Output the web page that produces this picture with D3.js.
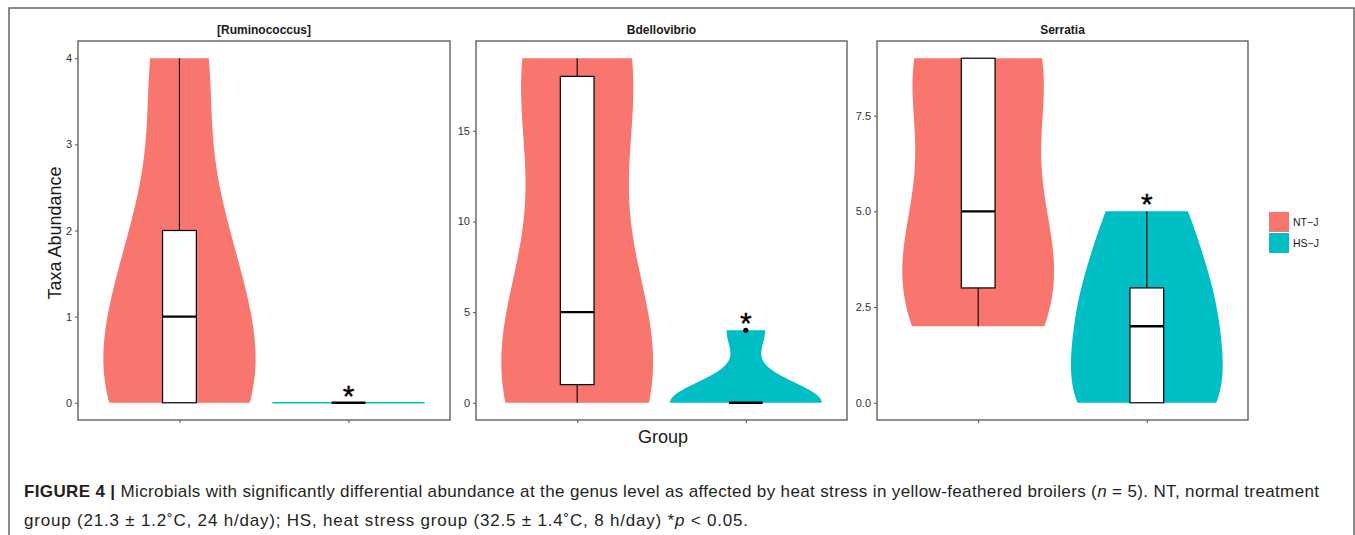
<!DOCTYPE html>
<html><head><meta charset="utf-8">
<script src="https://cdn.jsdelivr.net/npm/d3@7"></script>
<style>body{margin:0;background:#fff}svg{display:block}</style>
</head><body><svg id="chart" width="1355" height="535"></svg>
<script>
// ---- data ----
const genera = ["[Ruminococcus]", "Bdellovibrio", "Serratia"];
const groups = ["NT\u2212J", "HS\u2212J"];
const ntValues = [[0, 0, 1, 2, 4], [0, 1, 5, 18, 19], [2, 3, 5, 9, 9]];
const hsValues = [[0, 0, 0, 0, 0], [0, 0, 0, 0, 4], [0, 0, 2, 3, 5]];
const yTicks = [[0, 1, 2, 3, 4], [0, 5, 10, 15], [0, 2.5, 5, 7.5]];
const yTickFormats = ["d", "d", ".1f"];
const sigLabels = ["*", "*", "*"];
const colors = ["#F8766D", "#00BFC4"];

// ---- layout ----
const svg = d3.select("#chart");
const panelX = [[78, 450], [476, 847], [877, 1248]];
const plotTop = 41, plotBottom = 420;

svg.append("rect").attr("x", 9).attr("y", 8).attr("width", 1345).attr("height", 600)
  .attr("fill", "none").attr("stroke", "#666").attr("stroke-width", 1.5);

function bwNrd0(x) {
  const hi = d3.deviation(x) || 0;
  let lo = Math.min(hi, (d3.quantile(x, 0.75) - d3.quantile(x, 0.25)) / 1.34);
  if (!lo) lo = hi || Math.abs(x[0]) || 1;
  return 0.9 * lo * Math.pow(x.length, -0.2);
}
function kde(x, n = 512) {
  const bw = bwNrd0(x);
  const lo = d3.min(x), hi = d3.max(x);
  const pts = [];
  for (let i = 0; i < n; i++) {
    const yv = lo === hi ? lo : lo + (hi - lo) * i / (n - 1);
    const d = d3.mean(x, v => Math.exp(-0.5 * ((yv - v) / bw) ** 2)) / (bw * Math.sqrt(2 * Math.PI));
    pts.push({ y: yv, d });
    if (lo === hi) break;
  }
  const m = d3.max(pts, p => p.d);
  pts.forEach(p => p.w = p.d / m);
  return pts;
}

genera.forEach((g, pi) => {
  const [x0, x1] = panelX[pi];
  const series = [ntValues[pi], hsValues[pi]];
  const all = series.flat();
  const ext = d3.extent(all);
  const pad = (ext[1] - ext[0]) * 0.05;
  const y = d3.scaleLinear().domain([ext[0] - pad, ext[1] + pad]).range([plotBottom, plotTop]);
  const x = d3.scalePoint().domain(groups).range([x0, x1]).padding(0.6);
  const step = x.step();
  const gp = svg.append("g");

  // title
  gp.append("text").attr("x", (x0 + x1) / 2).attr("y", 34).attr("text-anchor", "middle")
    .attr("font-family", "Liberation Sans, Arial, sans-serif").attr("font-weight", "bold")
    .attr("font-size", 12).attr("fill", "#1a1a1a").text(g);

  series.forEach((vals, gi) => {
    const cx = x(groups[gi]);
    const dens = kde(vals);
    const half = 0.45 * step;
    if (dens.length === 1) {
      gp.append("line").attr("x1", cx - half).attr("x2", cx + half)
        .attr("y1", y(dens[0].y)).attr("y2", y(dens[0].y))
        .attr("stroke", colors[gi]).attr("stroke-width", 1.5);
    } else {
      const area = d3.area().y(p => y(p.y)).x0(p => cx - half * p.w).x1(p => cx + half * p.w);
      gp.append("path").attr("d", area(dens)).attr("fill", colors[gi]);
    }
    // boxplot
    const s = vals.slice().sort(d3.ascending);
    const q1 = d3.quantile(s, 0.25), med = d3.quantile(s, 0.5), q3 = d3.quantile(s, 0.75);
    const iqr = q3 - q1;
    const inl = s.filter(v => v >= q1 - 1.5 * iqr && v <= q3 + 1.5 * iqr);
    const wLo = d3.min(inl), wHi = d3.max(inl);
    const out = s.filter(v => v < q1 - 1.5 * iqr || v > q3 + 1.5 * iqr);
    const bw = 0.2 * step;
    gp.append("line").attr("x1", cx).attr("x2", cx).attr("y1", y(q3)).attr("y2", y(wHi))
      .attr("stroke", "#000").attr("stroke-width", 1.1);
    gp.append("line").attr("x1", cx).attr("x2", cx).attr("y1", y(q1)).attr("y2", y(wLo))
      .attr("stroke", "#000").attr("stroke-width", 1.1);
    gp.append("rect").attr("x", cx - bw / 2).attr("y", y(q3)).attr("width", bw)
      .attr("height", Math.max(0, y(q1) - y(q3))).attr("fill", "#fff")
      .attr("stroke", "#000").attr("stroke-width", 1.2);
    gp.append("line").attr("x1", cx - bw / 2).attr("x2", cx + bw / 2).attr("y1", y(med)).attr("y2", y(med))
      .attr("stroke", "#000").attr("stroke-width", 2.4);
    out.forEach(o => gp.append("circle").attr("cx", cx).attr("cy", y(o)).attr("r", 2.6).attr("fill", "#000"));
    if (gi === 1) {
      gp.append("text").attr("x", cx).attr("y", y(d3.max(vals)) + 3).attr("text-anchor", "middle")
        .attr("font-family", "Liberation Sans, Arial, sans-serif").attr("font-size", 30)
        .attr("fill", "#000").attr("stroke", "#000").attr("stroke-width", 0.4).text(sigLabels[pi]);
    }
  });

  // panel border
  gp.append("rect").attr("x", x0).attr("y", plotTop).attr("width", x1 - x0).attr("height", plotBottom - plotTop)
    .attr("fill", "none").attr("stroke", "#555").attr("stroke-width", 1.3);

  // y axis
  const ya = gp.append("g").attr("transform", `translate(${x0},0)`)
    .call(d3.axisLeft(y).tickValues(yTicks[pi]).tickFormat(d3.format(yTickFormats[pi])).tickSize(3).tickPadding(3));
  ya.select(".domain").remove();
  ya.selectAll("line").attr("stroke", "#555");
  ya.selectAll("text").attr("font-family", "Liberation Sans, Arial, sans-serif").attr("font-size", 11).attr("fill", "#333");
  // x axis
  const xa = gp.append("g").attr("transform", `translate(0,${plotBottom})`)
    .call(d3.axisBottom(x).tickSize(3).tickFormat(""));
  xa.select(".domain").remove();
  xa.selectAll("line").attr("stroke", "#555");
});

// axis titles
svg.append("text").attr("transform", "translate(61,233) rotate(-90)").attr("text-anchor", "middle")
  .attr("font-family", "Liberation Sans, Arial, sans-serif").attr("font-size", 18).attr("fill", "#1a1a1a")
  .text("Taxa Abundance");
svg.append("text").attr("x", 663).attr("y", 443).attr("text-anchor", "middle")
  .attr("font-family", "Liberation Sans, Arial, sans-serif").attr("font-size", 18).attr("fill", "#1a1a1a")
  .text("Group");

// legend
const lg = svg.append("g").attr("transform", "translate(1269,212)");
groups.forEach((gname, i) => {
  lg.append("rect").attr("x", 0).attr("y", i * 21).attr("width", 20).attr("height", 20).attr("fill", colors[i]);
  lg.append("text").attr("x", 24).attr("y", i * 21 + 14).attr("font-family", "Liberation Sans, Arial, sans-serif")
    .attr("font-size", 10.5).attr("fill", "#1a1a1a").text(gname);
});

// caption
const cap = svg.append("g").attr("font-family", "Liberation Sans, Arial, sans-serif").attr("font-size", 17).attr("fill", "#231f20");
const l1 = cap.append("text").attr("x", 24).attr("y", 497).attr("textLength", 1295).attr("lengthAdjust", "spacing");
l1.append("tspan").attr("font-weight", "bold").text("FIGURE 4 | ");
l1.append("tspan").text("Microbials with significantly differential abundance at the genus level as affected by heat stress in yellow-feathered broilers (");
l1.append("tspan").attr("font-style", "italic").text("n");
l1.append("tspan").text(" = 5). NT, normal treatment");
const l2 = cap.append("text").attr("x", 24).attr("y", 526).attr("textLength", 724).attr("lengthAdjust", "spacing");
l2.append("tspan").text("group (21.3 \u00b1 1.2\u02daC, 24 h/day); HS, heat stress group (32.5 \u00b1 1.4\u02daC, 8 h/day) *");
l2.append("tspan").attr("font-style", "italic").text("p");
l2.append("tspan").text(" < 0.05.");
</script>
</body></html>
